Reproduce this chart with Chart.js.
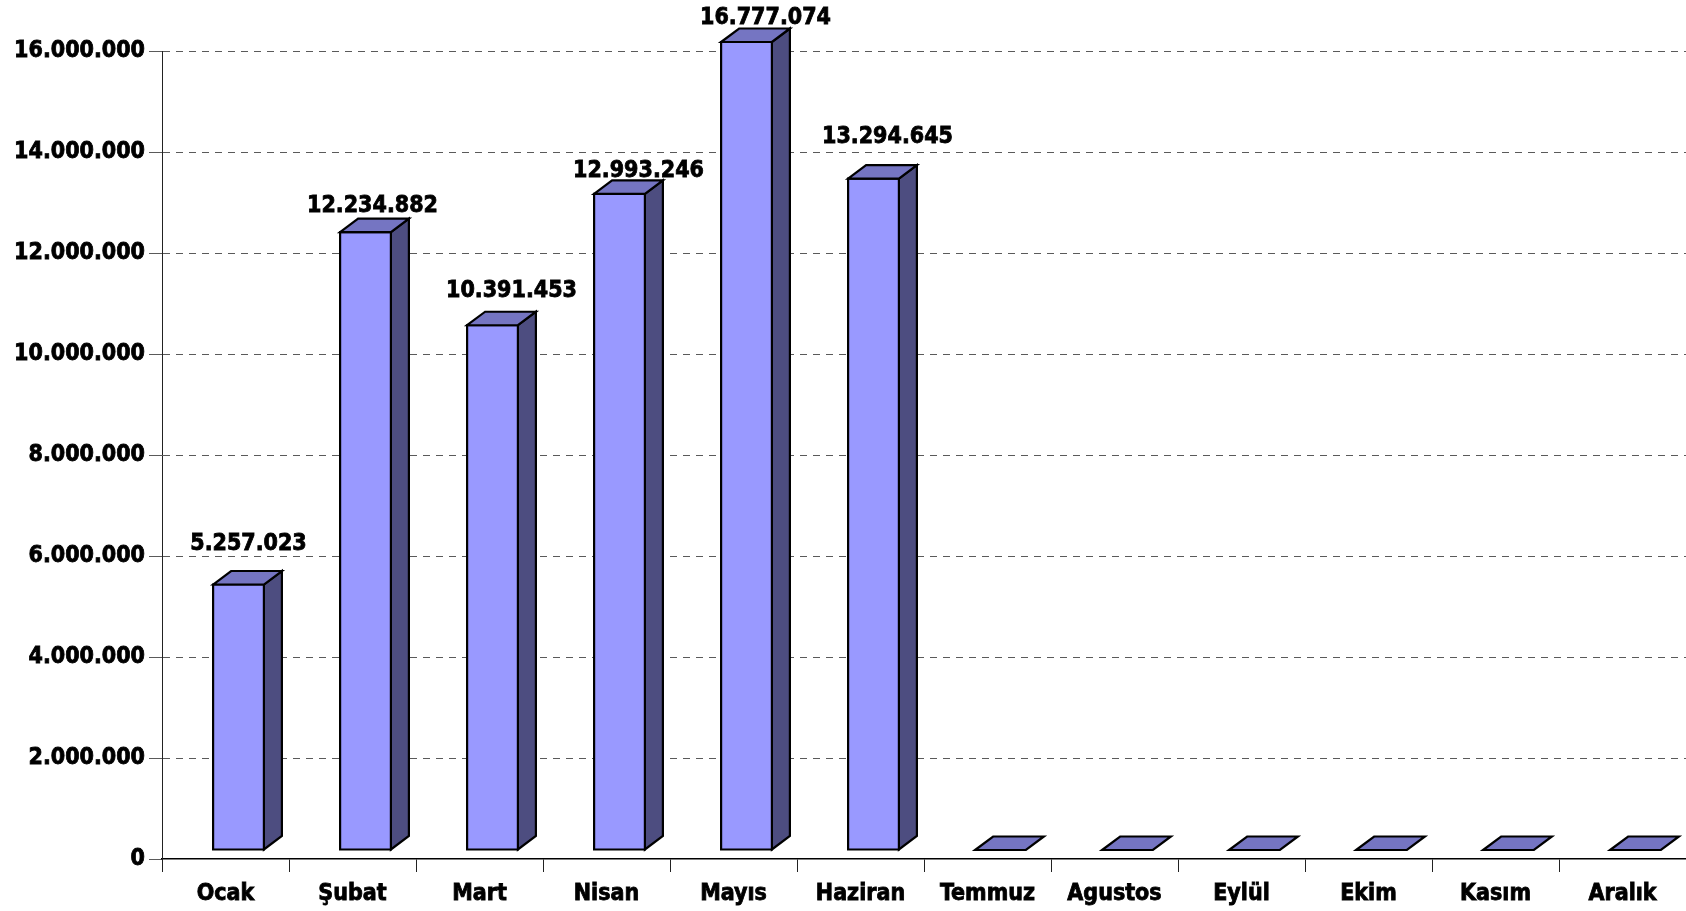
<!DOCTYPE html>
<html lang="tr">
<head>
    <meta charset="UTF-8">
    <title>Aylık Dağılım</title>
    <script src="https://cdn.jsdelivr.net/npm/chart.js"></script>
    <style>
        body {
            margin: 0;
            background: #ffffff;
        }
        #chart {
            display: block;
        }
    </style>
</head>
<body>
    <canvas id="chart" width="1686" height="911"></canvas>

    <script>
        // veri
        const months = ['Ocak', 'Şubat', 'Mart', 'Nisan', 'Mayıs', 'Haziran',
                        'Temmuz', 'Agustos', 'Eylül', 'Ekim', 'Kasım', 'Aralık'];
        const values = [5257023, 12234882, 10391453, 12993246, 16777074, 13294645,
                        0, 0, 0, 0, 0, 0];
        const yMax = 16000000;
        const yStep = 2000000;

        // etiket kaydırmaları (sadece metin yerleşimi için)
        const labelGap = [21, 7, 15, 3, 4.5, 22.5];
        const labelNudge = [1, -2, 10, 10, 10, 5];

        const FONT = "'DejaVu Sans Condensed', 'DejaVu Sans', sans-serif";

        function fmt(n) {
            return String(n).replace(/\B(?=(\d{3})+(?!\d))/g, '.');
        }

        // 3B sütunlar: Chart.js ölçeklerinden gelen konumlarla çizilir
        const bar3d = {
            id: 'bar3d',
            afterDatasetsDraw(chart, args, opts) {
                const ctx = chart.ctx;
                const meta = chart.getDatasetMeta(0);
                const top = chart.chartArea.top;
                const dx = opts.depthX, dy = opts.depthY;

                function poly(pts, fill) {
                    ctx.beginPath();
                    ctx.moveTo(pts[0][0], pts[0][1]);
                    for (let k = 1; k < pts.length; k++) ctx.lineTo(pts[k][0], pts[k][1]);
                    ctx.closePath();
                    ctx.fillStyle = fill;
                    ctx.fill();
                    ctx.stroke();
                }

                ctx.save();
                ctx.lineWidth = 2.2;
                ctx.strokeStyle = '#000000';
                ctx.lineJoin = 'miter';

                meta.data.forEach((bar, i) => {
                    const w = bar.width;
                    const x0 = bar.x - w / 2 + opts.shiftX;
                    const x1 = x0 + w;
                    const yb = bar.base + opts.shiftY;
                    const yt = Math.max(bar.y, top) + opts.shiftY;

                    if (yb - yt > 0.5) {
                        poly([[x1, yt], [x1 + dx, yt - dy], [x1 + dx, yb - dy], [x1, yb]], opts.side);
                        poly([[x0, yt], [x1, yt], [x1, yb], [x0, yb]], opts.front);
                    }
                    poly([[x0, yt], [x0 + dx, yt - dy], [x1 + dx, yt - dy], [x1, yt]], opts.top);
                });

                // değer etiketleri
                ctx.fillStyle = '#000000';
                ctx.lineWidth = 0.8;
                ctx.font = 'bold 23px ' + FONT;
                ctx.textAlign = 'center';
                ctx.textBaseline = 'alphabetic';
                meta.data.forEach((bar, i) => {
                    if (!(values[i] > 0)) return;
                    const w = bar.width;
                    const x0 = bar.x - w / 2 + opts.shiftX;
                    const yt = Math.max(bar.y, top) + opts.shiftY;
                    const cx = x0 + (w + dx) / 2 + (labelNudge[i] || 0);
                    const by = yt - dy - (labelGap[i] || 10);
                    ctx.strokeText(fmt(values[i]), cx, by);
                    ctx.fillText(fmt(values[i]), cx, by);
                });
                ctx.restore();
            }
        };

        const ctx = document.getElementById('chart').getContext('2d');
        new Chart(ctx, {
            type: 'bar',
            data: {
                labels: months,
                datasets: [{
                    data: values,
                    backgroundColor: 'rgba(0,0,0,0)',
                    borderWidth: 0,
                    categoryPercentage: 1.0,
                    barPercentage: 0.4
                }]
            },
            options: {
                responsive: false,
                animation: false,
                layout: { padding: { top: 51, left: 0, right: 0, bottom: 0 } },
                plugins: {
                    legend: { display: false },
                    tooltip: { enabled: false },
                    bar3d: {
                        shiftX: 13,
                        shiftY: -9,
                        depthX: 18,
                        depthY: 13.5,
                        front: '#9999FF',
                        top: '#7575C2',
                        side: '#4D4D80'
                    }
                },
                scales: {
                    x: {
                        afterFit(scale) { scale.height = 52; },
                        grid: {
                            offset: true,
                            drawOnChartArea: false,
                            drawTicks: true,
                            tickLength: 13,
                            tickColor: '#222222',
                            tickWidth: 1
                        },
                        border: { color: '#000000', width: 1.5 },
                        ticks: {
                            color: '#000000',
                            textStrokeColor: '#000000',
                            textStrokeWidth: 0.8,
                            padding: 8,
                            font: { family: FONT, size: 23, weight: 'bold' },
                            maxRotation: 0,
                            autoSkip: false
                        }
                    },
                    y: {
                        min: 0,
                        max: yMax,
                        afterFit(scale) { scale.width = 162; },
                        grid: {
                            color: (c) => c.index === 0 ? 'rgba(0,0,0,0)' : '#5a5a5a',
                            lineWidth: 1,
                            drawTicks: true,
                            tickLength: 13,
                            tickColor: '#5a5a5a',
                            tickWidth: 1
                        },
                        border: { color: '#222222', width: 1, dash: [7, 6] },
                        ticks: {
                            stepSize: yStep,
                            color: '#000000',
                            textStrokeColor: '#000000',
                            textStrokeWidth: 0.8,
                            padding: 4,
                            font: { family: FONT, size: 23, weight: 'bold' },
                            callback: (v) => fmt(v)
                        }
                    }
                }
            },
            plugins: [bar3d]
        });
    </script>
</body>
</html>
